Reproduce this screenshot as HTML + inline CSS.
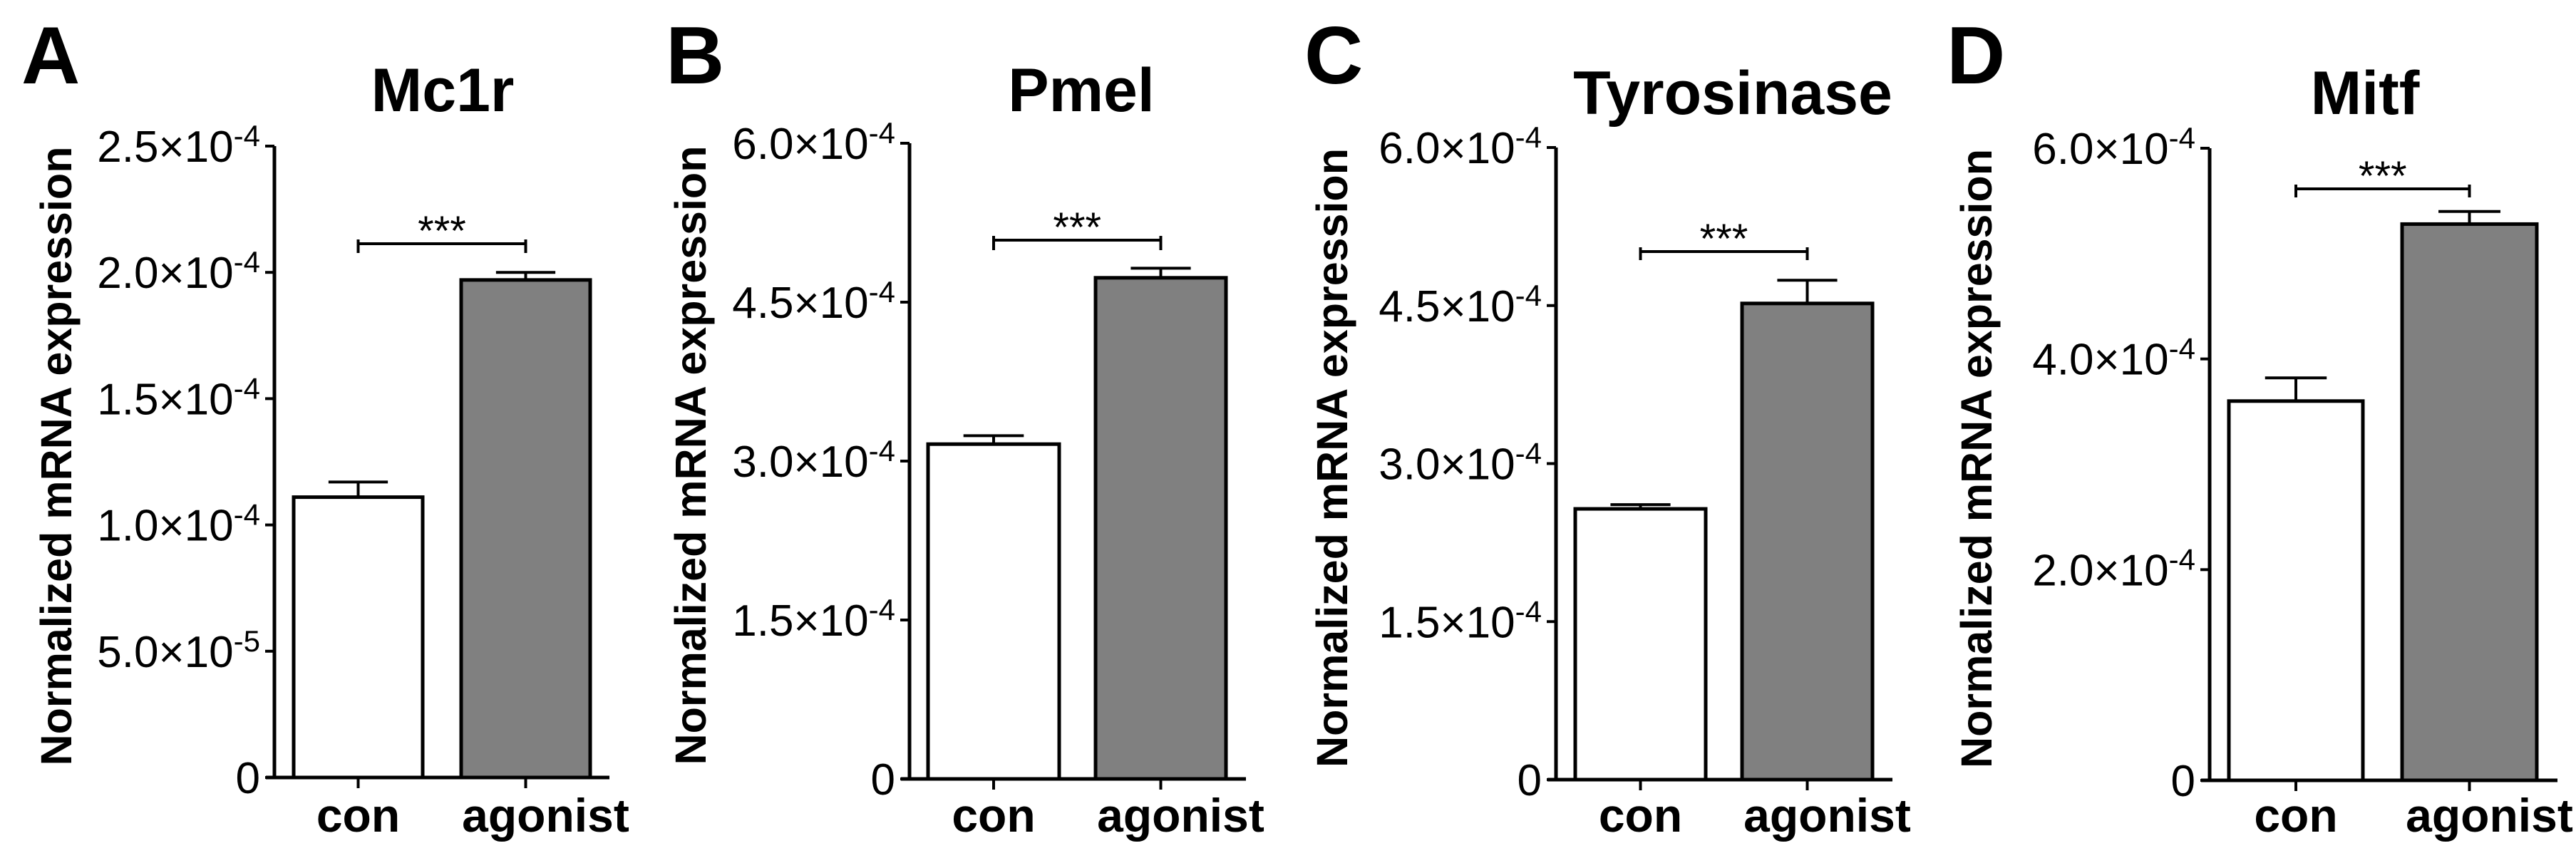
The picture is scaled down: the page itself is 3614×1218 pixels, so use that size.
<!DOCTYPE html>
<html><head><meta charset="utf-8"><style>
html,body{margin:0;padding:0;background:#fff;}
svg{display:block;font-family:"Liberation Sans",Arial,sans-serif;}
</style></head><body>
<svg id="fig" width="3614" height="1218" viewBox="0 0 3614 1218" xmlns="http://www.w3.org/2000/svg"></svg>
<script>
const categories = ["con", "agonist"];
const panelLetters = ["A", "B", "C", "D"];
const panelTitles = ["Mc1r", "Pmel", "Tyrosinase", "Mitf"];
const meansA = [1.11e-4, 1.97e-4];
const errsA = [0.06e-4, 0.03e-4];
const meansB = [3.16e-4, 4.73e-4];
const errsB = [0.08e-4, 0.09e-4];
const meansC = [2.57e-4, 4.52e-4];
const errsC = [0.04e-4, 0.22e-4];
const meansD = [3.60e-4, 5.28e-4];
const errsD = [0.22e-4, 0.12e-4];
const yMaxes = [2.5e-4, 6.0e-4, 6.0e-4, 6.0e-4];
const tickMantA = ["0", "5.0", "1.0", "1.5", "2.0", "2.5"];
const tickExpA = ["", "-5", "-4", "-4", "-4", "-4"];
const tickValsA = [0, 0.5e-4, 1.0e-4, 1.5e-4, 2.0e-4, 2.5e-4];
const tickMantBC = ["0", "1.5", "3.0", "4.5", "6.0"];
const tickExpBC = ["", "-4", "-4", "-4", "-4"];
const tickValsBC = [0, 1.5e-4, 3.0e-4, 4.5e-4, 6.0e-4];
const tickMantD = ["0", "2.0", "4.0", "6.0"];
const tickExpD = ["", "-4", "-4", "-4"];
const tickValsD = [0, 2.0e-4, 4.0e-4, 6.0e-4];
const sigLabel = "***";

const layouts = [
  {ax:385, top:205, zero:1091, right:855, bars:[[412,593],[647,828]], brY:342, brDrop:13, lx:30, titleX:621, titleY:156, ylx:79},
  {ax:1276, top:201, zero:1093, right:1748, bars:[[1302,1486],[1537,1720]], brY:337, brDrop:14, lx:934, titleX:1517, titleY:156, ylx:969},
  {ax:2183, top:207, zero:1094, right:2655, bars:[[2210,2393],[2444,2627]], brY:353, brDrop:12, lx:1830, titleX:2431, titleY:160, ylx:1869},
  {ax:3100, top:208, zero:1095, right:3588, bars:[[3127,3315],[3370,3559]], brY:265, brDrop:12, lx:2731, titleX:3318, titleY:160, ylx:2773}
];
const allMeans = [meansA, meansB, meansC, meansD];
const allErrs = [errsA, errsB, errsC, errsD];
const allTicks = [[tickValsA, tickMantA, tickExpA],[tickValsBC, tickMantBC, tickExpBC],[tickValsBC, tickMantBC, tickExpBC],[tickValsD, tickMantD, tickExpD]];
const NS = "http://www.w3.org/2000/svg";
const svg = document.getElementById("fig");
function mk(tag, attrs, parent) {
  const e = document.createElementNS(NS, tag);
  for (const k in attrs) e.setAttribute(k, attrs[k]);
  (parent || svg).appendChild(e);
  return e;
}
const SW = 5;
layouts.forEach((L, p) => {
  const g = mk("g", {});
  
  
  const y = v => L.zero - v / yMaxes[p] * (L.zero - L.top);
  const lt = mk("text", {x:L.lx, y:117, "font-size":114, "font-weight":"bold"}, g);
  lt.textContent = panelLetters[p];
  
  
  const tt = mk("text", {x:L.titleX, y:L.titleY, "font-size":86, "font-weight":"bold", "text-anchor":"middle"}, g);
  tt.textContent = panelTitles[p];
  
  
  const ymid = (L.top + L.zero) / 2 - 8;
  const yl = mk("text", {x:L.ylx, y:ymid, "font-size":61, "font-weight":"bold", "text-anchor":"middle", "dominant-baseline":"central", transform:`rotate(-90 ${L.ylx} ${ymid})`}, g);
  yl.textContent = "Normalized mRNA expression";
  
  
  const means = allMeans[p], errs = allErrs[p];
  categories.forEach((c, i) => {
    const [x0, x1] = L.bars[i];
    const cx = (x0 + x1) / 2;
    const top = y(means[i]);
    const et = y(means[i] + errs[i]);
    const hw = (x1 - x0) * 0.23;
    const eb = mk("path", {d:`M${cx},${top} V${et} M${cx-hw},${et} H${cx+hw}`, stroke:"#000", "stroke-width":4, fill:"none"}, g);
    
    
    const r = mk("rect", {x:x0, y:top, width:x1-x0, height:L.zero-top, fill:i===0?"#fff":"#808080", stroke:"#000", "stroke-width":SW}, g);
    
    
    const tk = mk("line", {x1:cx, x2:cx, y1:L.zero, y2:L.zero+15, stroke:"#000", "stroke-width":4}, g);
    
    
    const xl = mk("text", {x:cx + (i===1?28:0), y:1167, "font-size":66, "font-weight":"bold", "text-anchor":"middle"}, g);
    xl.textContent = c;
    
    
  });
  const ax = mk("path", {d:`M${L.ax},${L.top} V${L.zero} M${L.ax-12},${L.zero} H${L.right}`, stroke:"#000", "stroke-width":SW, fill:"none"}, g);
  
  
  const [tv, tm, te] = allTicks[p];
  tv.forEach((v, k) => {
    const ty = y(v);
    const tl = mk("line", {x1:L.ax-13, x2:L.ax, y1:ty, y2:ty, stroke:"#000", "stroke-width":4}, g);
    
    
    const t = mk("text", {x:L.ax-20, y:ty+22, "font-size":62, "text-anchor":"end"}, g);
    
    
    if (te[k]) {
      const s1 = mk("tspan", {}, t); s1.textContent = tm[k] + "\u00d710";
      const s2 = mk("tspan", {dy:-22, "font-size":42}, t); s2.textContent = te[k];
    } else {
      t.textContent = tm[k];
    }
  });
  const bx0 = (L.bars[0][0] + L.bars[0][1]) / 2, bx1 = (L.bars[1][0] + L.bars[1][1]) / 2;
  const br = mk("path", {d:`M${bx0},${L.brY+L.brDrop} V${L.brY-6} M${bx0},${L.brY} H${bx1} M${bx1},${L.brY+L.brDrop} V${L.brY-6}`, stroke:"#000", "stroke-width":4, fill:"none"}, g);
  
  
  const st = mk("text", {x:(bx0+bx1)/2, y:L.brY+2, "font-size":58, "text-anchor":"middle"}, g);
  st.textContent = sigLabel;
  
  
});
</script>
</body></html>
